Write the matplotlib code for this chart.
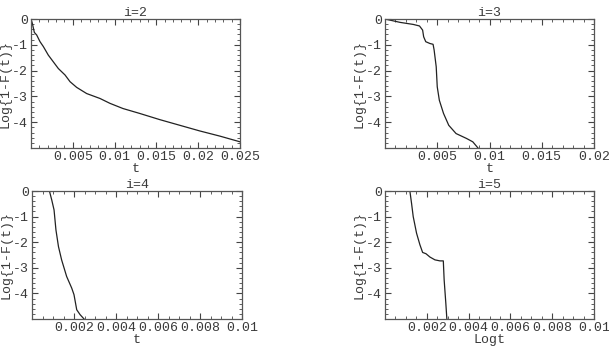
import matplotlib
matplotlib.use("Agg")
import matplotlib.pyplot as plt
from matplotlib.ticker import MultipleLocator

# i=2
t2 = [0, 0.00016, 0.0004, 0.00068, 0.00108, 0.00148, 0.00207, 0.00267, 0.00327,
      0.00407, 0.00467, 0.00546, 0.00666, 0.00825, 0.00945, 0.0110, 0.0130,
      0.0154, 0.0178, 0.0202, 0.0226, 0.025]
y2 = [0, -0.17, -0.52, -0.62, -0.88, -1.07, -1.40, -1.66, -1.92,
      -2.17, -2.43, -2.65, -2.89, -3.08, -3.27, -3.47, -3.66,
      -3.90, -4.12, -4.34, -4.54, -4.76]

# i=3
t3 = [0, 0.00143, 0.0027, 0.0033, 0.0036, 0.0037, 0.0039, 0.0043, 0.0046,
      0.0047, 0.0049, 0.0050, 0.0052, 0.0056, 0.0061, 0.0068, 0.0078, 0.0084, 0.0089]
y3 = [0, -0.13, -0.21, -0.27, -0.43, -0.69, -0.88, -0.95, -0.98,
      -1.2, -1.85, -2.63, -3.15, -3.66, -4.12, -4.44, -4.63, -4.76, -5.0]

# i=4
t4 = [0, 0.00083, 0.00094, 0.00105, 0.00114, 0.00126, 0.00141, 0.00165,
      0.00189, 0.0020, 0.00213, 0.00229, 0.00248]
y4 = [0, 0, -0.35, -0.74, -1.52, -2.17, -2.69, -3.34,
      -3.79, -4.05, -4.64, -4.83, -5.0]

# i=5
t5 = [0, 0.00119, 0.00127, 0.00135, 0.00151, 0.00167, 0.0018, 0.00196,
      0.00215, 0.00239, 0.00263, 0.00279, 0.00283, 0.00291, 0.00296]
y5 = [0, 0, -0.48, -1.0, -1.65, -2.10, -2.40, -2.45,
      -2.58, -2.69, -2.73, -2.73, -3.47, -4.38, -5.0]

ytick_vals = [0, -1, -2, -3, -4]
ytick_labels = ["0", "-1", "-2", "-3", "-4"]
xticks_a = [0.005, 0.01, 0.015, 0.02, 0.025]
xlabels_a = ["0.005", "0.01", "0.015", "0.02", "0.025"]
xticks_b = [0.005, 0.01, 0.015, 0.02]
xlabels_b = ["0.005", "0.01", "0.015", "0.02"]
xticks_c = [0.002, 0.004, 0.006, 0.008, 0.01]
xlabels_c = ["0.002", "0.004", "0.006", "0.008", "0.01"]

FONT = "Liberation Mono"
FS = 9.5
TXT = "#3a3a3a"

fig = plt.figure(figsize=(6.09, 3.61), dpi=100)
W, H = 609, 361


def panel(box, t, y, title, xlim, xt, xl, xminor, xlabel):
    l, r, top, bot = box
    ax = fig.add_axes([l / W, (H - bot) / H, (r - l) / W, (bot - top) / H])
    ax.plot(t, y, color="#222222", lw=0.9)
    ax.set_xlim(*xlim)
    ax.set_ylim(-5, 0)
    ax.set_xticks(xt)
    ax.set_xticklabels(xl)
    ax.set_yticks(ytick_vals)
    ax.set_yticklabels(ytick_labels)
    ax.xaxis.set_minor_locator(MultipleLocator(xminor))
    ax.yaxis.set_minor_locator(MultipleLocator(0.2))
    ax.tick_params(which="both", direction="in", top=True, right=True,
                   colors="#444444", labelcolor=TXT, labelsize=FS, pad=2)
    ax.tick_params(which="major", length=4, width=0.8)
    ax.tick_params(which="minor", length=2, width=0.6)
    for lab in ax.get_xticklabels() + ax.get_yticklabels():
        lab.set_family(FONT)
    for s in ax.spines.values():
        s.set_color("#555555")
        s.set_linewidth(0.9)
    ax.set_title(title, fontsize=FS, family=FONT, color=TXT, pad=0.5)
    ax.set_xlabel(xlabel, fontsize=FS, family=FONT, color=TXT, labelpad=0.5)
    ax.set_ylabel("Log{1-F(t)}", fontsize=FS, family=FONT, color=TXT)
    ax.yaxis.set_label_coords(-19.5 / (r - l), 0.5)
    return ax


panel((31, 240, 19, 148), t2, y2, "i=2", (0, 0.025), xticks_a, xlabels_a, 0.001, "t")
panel((385, 594, 19, 148), t3, y3, "i=3", (0, 0.02), xticks_b, xlabels_b, 0.001, "t")
panel((32, 242, 191, 319), t4, y4, "i=4", (0, 0.01), xticks_c, xlabels_c, 0.0005, "t")
panel((385, 594, 191, 319), t5, y5, "i=5", (0, 0.01), xticks_c, xlabels_c, 0.0005, "Logt")

fig.savefig("out.png", dpi=100)
